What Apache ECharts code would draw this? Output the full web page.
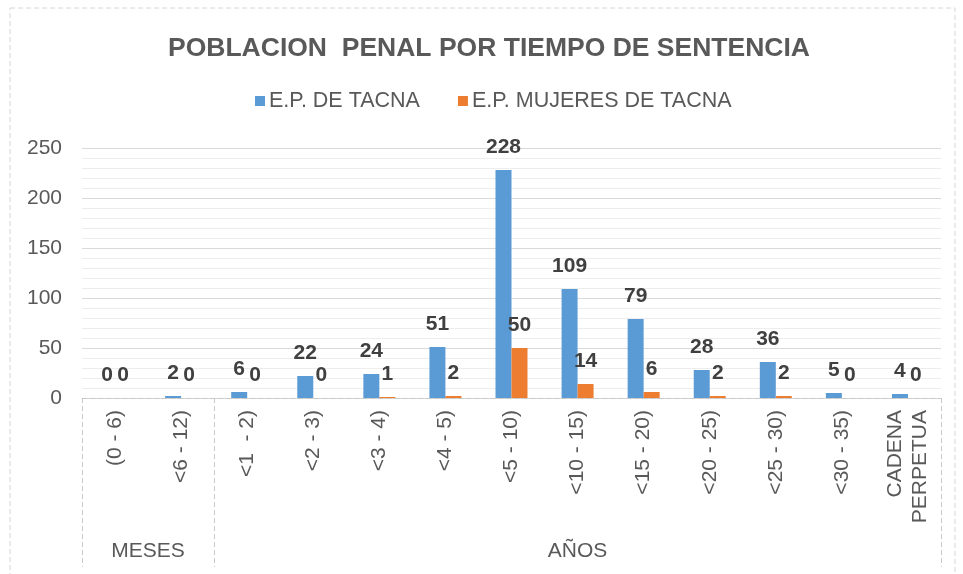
<!DOCTYPE html>
<html>

<head>
    <meta charset="utf-8">
    <title>index</title>
    <script src="https://cdn.jsdelivr.net/npm/echarts@6/dist/echarts.min.js"></script>
    <style>
        html, body { margin: 0; padding: 0; background: #fff; }
    </style>
</head>

<body>
    <div id="main" style="width:963px;height:574px;"></div>
</body>
<script>
    // datos
    var categorias = ['(0 - 6)', '<6 - 12)', '<1  - 2)', '<2 - 3)', '<3 - 4)', '<4 - 5)', '<5 - 10)',
        '<10 - 15)', '<15 - 20)', '<20 - 25)', '<25 - 30)', '<30 - 35)', 'CADENA\nPERPETUA'];
    var tacna = [0, 2, 6, 22, 24, 51, 228, 109, 79, 28, 36, 5, 4];
    var mujeres = [0, 0, 0, 0, 1, 2, 50, 14, 6, 2, 2, 0, 0];
    var grupos = ['MESES', 'AÑOS'];
    var grupoTam = [2, 11];
    var yTicks = [0, 50, 100, 150, 200, 250];

    var fuente = 'Liberation Sans, Arial, sans-serif';
    var chart = echarts.init(document.getElementById('main'));

    var etiqueta = {
        show: true,
        position: 'top',
        distance: 12,
        fontFamily: fuente,
        fontSize: 21,
        fontWeight: 'bold',
        color: '#404040'
    };

    chart.setOption({
        animation: false,
        textStyle: { fontFamily: fuente },
        title: {
            text: 'POBLACION  PENAL POR TIEMPO DE SENTENCIA',
            left: 168,
            top: 35,
            padding: 0,
            textStyle: { fontFamily: fuente, fontSize: 26.5, fontWeight: 'bold', color: '#595959' }
        },
        legend: {
            left: 255,
            top: 90,
            padding: 0,
            itemWidth: 10,
            itemHeight: 10,
            itemGap: 38,
            icon: 'rect',
            textStyle: { fontFamily: fuente, fontSize: 21.5, color: '#595959', padding: [0, 0, 0, -1] },
            data: ['E.P. DE TACNA', 'E.P. MUJERES DE TACNA']
        },
        grid: { left: 82, right: 22, top: 148, bottom: 176 },
        xAxis: {
            type: 'category',
            data: categorias,
            axisLine: { show: true, lineStyle: { color: '#c8c8c8', type: [5, 3] } },
            axisTick: { show: false },
            axisLabel: {
                rotate: 90,
                interval: 0,
                margin: 12,
                fontFamily: fuente,
                fontSize: 21,
                lineHeight: 25,
                color: '#595959'
            }
        },
        yAxis: {
            type: 'value',
            min: yTicks[0],
            max: yTicks[yTicks.length - 1],
            interval: yTicks[1] - yTicks[0],
            axisLine: { show: false },
            axisTick: { show: false },
            axisLabel: { margin: 20, fontFamily: fuente, fontSize: 21, color: '#595959' },
            splitLine: { lineStyle: { color: '#d9d9d9' } },
            minorTick: { show: false, splitNumber: 5 },
            minorSplitLine: { show: true, lineStyle: { color: '#ededed' } }
        },
        series: [
            {
                name: 'E.P. DE TACNA',
                type: 'bar',
                data: tacna,
                barWidth: 16,
                barGap: '0%',
                itemStyle: { color: '#5B9BD5' },
                label: etiqueta
            },
            {
                name: 'E.P. MUJERES DE TACNA',
                type: 'bar',
                data: mujeres,
                barWidth: 16,
                itemStyle: { color: '#ED7D31' },
                label: etiqueta
            }
        ]
    });

    // separadores de grupos y borde
    var c0 = chart.convertToPixel({ xAxisIndex: 0 }, categorias[0]);
    var c1 = chart.convertToPixel({ xAxisIndex: 0 }, categorias[1]);
    var banda = c1 - c0;
    var y0 = chart.convertToPixel({ yAxisIndex: 0 }, 0);
    var graficos = [{
        type: 'rect',
        shape: { x: 10, y: 8, width: 945, height: 620 },
        style: { fill: 'none', stroke: '#d6d6d6', lineWidth: 1, lineDash: [5, 3] },
        silent: true
    }];
    var inicio = 0;
    var bordes = [c0 - banda / 2];
    grupos.forEach(function (g, i) {
        var x1 = c0 - banda / 2 + inicio * banda;
        var x2 = x1 + grupoTam[i] * banda;
        bordes.push(x2);
        graficos.push({
            type: 'text',
            x: (x1 + x2) / 2,
            y: 551,
            style: {
                text: g, fontFamily: fuente, fontSize: 21, fill: '#595959',
                align: 'center', verticalAlign: 'middle'
            }
        });
        inicio += grupoTam[i];
    });
    bordes.forEach(function (x) {
        graficos.push({
            type: 'line',
            shape: { x1: Math.round(x) + 0.5, y1: y0, x2: Math.round(x) + 0.5, y2: 567 },
            style: { stroke: '#c8c8c8', lineWidth: 1, lineDash: [5, 3] },
            silent: true
        });
    });
    chart.setOption({ graphic: graficos });
</script>

</html>
